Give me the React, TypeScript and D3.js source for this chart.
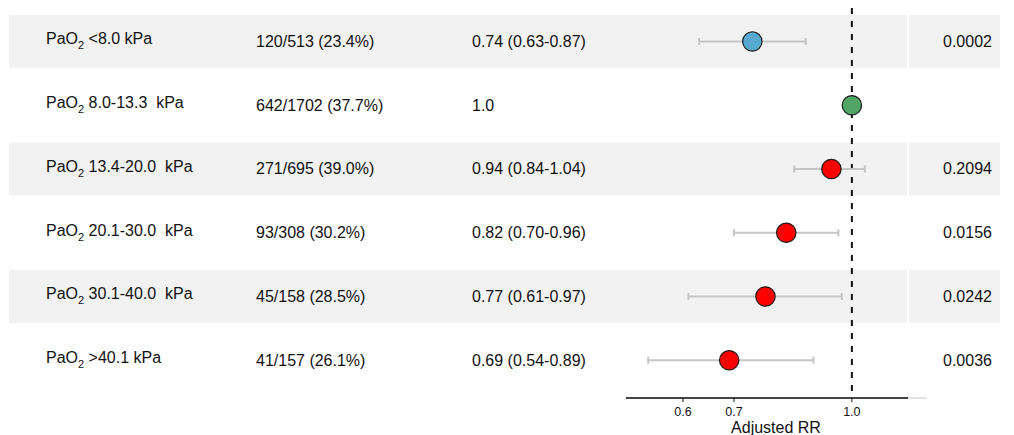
import React from 'react';
import * as d3 from 'd3';

// rows, top to bottom
const labels = ['<8.0 kPa', '8.0-13.3  kPa', '13.4-20.0  kPa', '20.1-30.0  kPa', '30.1-40.0  kPa', '>40.1 kPa'];
const counts = ['120/513 (23.4%)', '642/1702 (37.7%)', '271/695 (39.0%)', '93/308 (30.2%)', '45/158 (28.5%)', '41/157 (26.1%)'];
const rr = [0.74, 1.0, 0.94, 0.82, 0.77, 0.69];
const lower = [0.63, null, 0.84, 0.70, 0.61, 0.54];
const upper = [0.87, null, 1.04, 0.96, 0.97, 0.89];
const pValues = ['0.0002', '', '0.2094', '0.0156', '0.0242', '0.0036'];
const groups = ['low', 'ref', 'high', 'high', 'high', 'high'];
const xTicks = [0.6, 0.7, 1.0];

const W = 1014;
const H = 435;
const FONT = '"Liberation Sans", Arial, Helvetica, sans-serif';

const colorOf: Record<string, string> = { low: '#57a9cf', ref: '#53a566', high: '#ff0000' };

const App = () => {
  const rows = d3.range(labels.length);
  const y = d3.scaleBand<number>().domain(rows).range([9.6, 392.1]).padding(0);
  const cy = (i: number) => (y(i) as number) + y.bandwidth() / 2;
  const x = d3.scaleLog().domain([0.505, 1.185]).range([626, 908]);
  const axisY = 398;
  const fmt = d3.format('.1f');
  const f2 = d3.format('.2f');

  return (
    <svg width={W} height={H} style={{ position: 'absolute', left: 0, top: 0, fontFamily: FONT }}>
      <rect width={W} height={H} fill="#fff" />
      {rows.filter(i => i % 2 === 0).map(i => (
        <g key={'bg' + i}>
          <rect x={9} y={cy(i) - 26.5} width={898} height={53} fill="#f2f2f2" />
          <rect x={909} y={cy(i) - 26.5} width={91} height={53} fill="#f2f2f2" />
        </g>
      ))}

      {/* reference line */}
      <line x1={x(1)} x2={x(1)} y1={8} y2={axisY} stroke="#111" strokeWidth={2} strokeDasharray="6,7" />

      {/* text columns */}
      {rows.map(i => (
        <g key={'t' + i} fontSize={16} fill="#111">
          <text x={46} y={cy(i) + 3} style={{ whiteSpace: 'pre' }}>
            PaO<tspan fontSize={11} dy={5}>2</tspan><tspan dy={-5}>{' ' + labels[i]}</tspan>
          </text>
          <text x={256} y={cy(i) + 5.5}>{counts[i]}</text>
          <text x={472} y={cy(i) + 5.5}>
            {lower[i] == null ? fmt(rr[i]) : `${f2(rr[i])} (${f2(lower[i] as number)}-${f2(upper[i] as number)})`}
          </text>
          <text x={943} y={cy(i) + 5.5}>{pValues[i]}</text>
        </g>
      ))}

      {/* confidence intervals */}
      {rows.filter(i => lower[i] != null).map(i => (
        <g key={'ci' + i} stroke="#c6c6c6" strokeWidth={2}>
          <line x1={x(lower[i] as number)} x2={x(upper[i] as number)} y1={cy(i)} y2={cy(i)} />
          <line x1={x(lower[i] as number)} x2={x(lower[i] as number)} y1={cy(i) - 3.5} y2={cy(i) + 3.5} />
          <line x1={x(upper[i] as number)} x2={x(upper[i] as number)} y1={cy(i) - 3.5} y2={cy(i) + 3.5} />
        </g>
      ))}

      {/* points */}
      {rows.map(i => (
        <circle key={'p' + i} cx={x(rr[i])} cy={cy(i)} r={9.7} fill={colorOf[groups[i]]} stroke="#1a1a1a" strokeWidth={1.2} />
      ))}

      {/* axis */}
      <line x1={626} x2={927} y1={axisY} y2={axisY} stroke="#c8c8c8" strokeWidth={1} />
      <line x1={x.range()[0]} x2={x.range()[1]} y1={axisY} y2={axisY} stroke="#111" strokeWidth={1.5} />
      {xTicks.map(t => (
        <g key={'xt' + t}>
          <line x1={x(t)} x2={x(t)} y1={axisY} y2={axisY + 4} stroke="#111" strokeWidth={1} />
          <text x={x(t)} y={axisY + 17.5} textAnchor="middle" fontSize={12.5} fill="#111">{fmt(t)}</text>
        </g>
      ))}
      <text x={776} y={433} textAnchor="middle" fontSize={16} fill="#111">Adjusted RR</text>
    </svg>
  );
};

export default App;
